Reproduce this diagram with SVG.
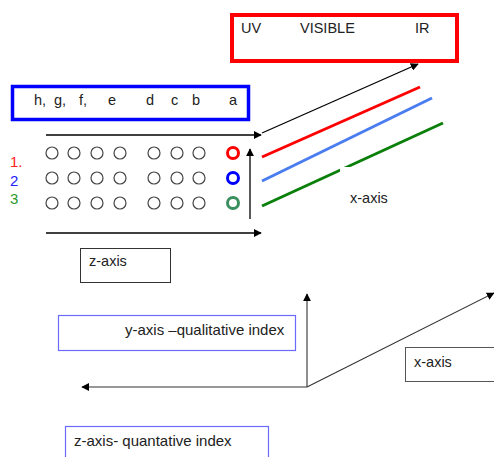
<svg xmlns="http://www.w3.org/2000/svg" width="494" height="457" viewBox="0 0 494 457">
<style>
text{font-family:"Liberation Sans",Arial,sans-serif;font-size:14.5px;fill:#222}
.big{font-size:15px}
.ax{stroke:#000;stroke-width:1.3;fill:none}
.thin{stroke:#333;stroke-width:1.1;fill:none}
.dot{fill:none;stroke:#444;stroke-width:1.2}
</style>
<defs>
<marker id="ah" viewBox="0 0 10 10" refX="9" refY="5" markerWidth="8" markerHeight="8" markerUnits="userSpaceOnUse" orient="auto"><path d="M0,0 L10,5 L0,10 z" fill="#000"/></marker>
</defs>
<rect width="494" height="457" fill="#fff"/>
<g id="spectrum">
<rect x="232" y="15" width="225" height="46" fill="#fff" stroke="#f00" stroke-width="4"/>
<text x="241" y="33">UV</text>
<text x="300" y="33">VISIBLE</text>
<text x="415" y="33">IR</text>
</g>
<g id="samples">
<rect x="12.5" y="86.5" width="236" height="33" fill="#fff" stroke="#00f" stroke-width="3.5"/>
<text x="34" y="105">h,</text><text x="54" y="105">g,</text><text x="79" y="105">f,</text><text x="108" y="105">e</text>
<text x="146" y="105">d</text><text x="171" y="105">c</text><text x="192" y="105">b</text><text x="229" y="105">a</text>
</g>
<g id="row-labels">
<text x="10" y="167" class="big" style="fill:#f22">1.</text>
<text x="10" y="186" class="big" style="fill:#22f">2</text>
<text x="10" y="204" class="big" style="fill:#2a9a2a">3</text>
</g>
<g id="dots">
<g class="dot">
<circle cx="52" cy="153" r="6"/><circle cx="74" cy="153" r="6"/><circle cx="97" cy="153" r="6"/><circle cx="120" cy="153" r="6"/><circle cx="154" cy="153" r="6"/><circle cx="177" cy="153" r="6"/><circle cx="199" cy="153" r="6"/>
<circle cx="52" cy="178" r="6"/><circle cx="74" cy="178" r="6"/><circle cx="97" cy="178" r="6"/><circle cx="120" cy="178" r="6"/><circle cx="154" cy="178" r="6"/><circle cx="177" cy="178" r="6"/><circle cx="199" cy="178" r="6"/>
<circle cx="52" cy="203" r="6"/><circle cx="74" cy="203" r="6"/><circle cx="97" cy="203" r="6"/><circle cx="120" cy="203" r="6"/><circle cx="154" cy="203" r="6"/><circle cx="177" cy="203" r="6"/><circle cx="199" cy="203" r="6"/>
</g>
<circle cx="233" cy="153" r="5.5" fill="none" stroke="#f00" stroke-width="3"/>
<circle cx="233" cy="178" r="5.5" fill="none" stroke="#00f" stroke-width="3"/>
<circle cx="233" cy="203" r="5.5" fill="none" stroke="#3a8f5f" stroke-width="3"/>
</g>
<g id="connectors">
<line class="ax" x1="46" y1="135" x2="261" y2="135" marker-end="url(#ah)"/>
<line class="ax" x1="46" y1="233" x2="261" y2="233" marker-end="url(#ah)"/>
<line class="ax" x1="250" y1="219" x2="250" y2="149" marker-end="url(#ah)"/>
<line class="ax" x1="262" y1="133" x2="418" y2="64" marker-end="url(#ah)" stroke-width="1"/>
<line x1="262" y1="157" x2="420" y2="87" stroke="#f00" stroke-width="3"/>
<line x1="262" y1="181" x2="432" y2="98" stroke="#4a7df0" stroke-width="3"/>
<line x1="262" y1="206" x2="443" y2="123" stroke="#0a800a" stroke-width="3"/>
<line class="thin" x1="307" y1="387" x2="307" y2="294" marker-end="url(#ah)"/>
<line class="thin" x1="307" y1="387" x2="82" y2="387" marker-end="url(#ah)"/>
<line class="thin" x1="307" y1="387" x2="494" y2="293" marker-end="url(#ah)"/>
</g>
<g id="x-axis-top">
<rect x="340" y="167" width="70" height="44" fill="#fff"/>
<text x="350" y="203">x-axis</text>
</g>
<g id="z-axis-top">
<rect x="80.5" y="248.5" width="90" height="34" fill="#fff" stroke="#333" stroke-width="1"/>
<text x="89" y="266">z-axis</text>
</g>
<g id="y-axis-label">
<rect x="58.5" y="315.5" width="237" height="35" fill="#fff" stroke="#6a6aff" stroke-width="1.2"/>
<text x="125" y="335" class="big">y-axis –qualitative index</text>
</g>
<g id="x-axis-bottom">
<rect x="405.5" y="347.5" width="95" height="34" fill="#fff" stroke="#555" stroke-width="1"/>
<text x="414" y="367">x-axis</text>
</g>
<g id="z-axis-label">
<rect x="65.5" y="426.5" width="203" height="40" fill="#fff" stroke="#6a6aff" stroke-width="1.2"/>
<text x="74" y="446" class="big">z-axis- quantative index</text>
</g>
</svg>
